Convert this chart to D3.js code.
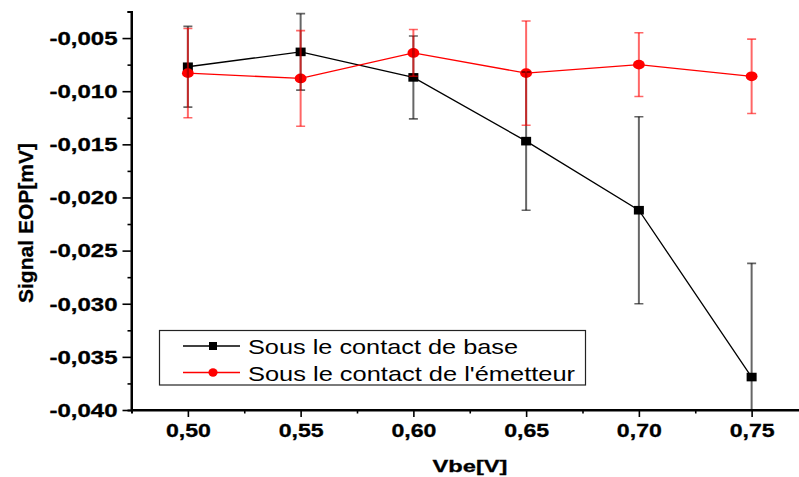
<!DOCTYPE html>
<html lang="fr">
<head>
	<meta charset="UTF-8">
	<title>Signal EOP vs Vbe</title>
	<script src="https://d3js.org/d3.v7.min.js" charset="utf-8"></script>
	<style>
		body { margin: 0; background: #fff; }
		text { font-family: "Liberation Sans", Arial, sans-serif; }
	</style>
</head>
<body>
	<svg></svg>
	<script>
		// data
		const vbe = [0.50, 0.55, 0.60, 0.65, 0.70, 0.75]
		const baseVals = [-0.0077, -0.0063, -0.0087, -0.0147, -0.0212, -0.0369]
		const baseErr = [0.0038, 0.0036, 0.0039, 0.0065, 0.0088, 0.0107]
		const emitVals = [-0.0083, -0.0088, -0.0064, -0.0083, -0.0075, -0.0086]
		const emitErr = [0.0042, 0.0045, 0.0022, 0.0049, 0.0030, 0.0035]
		const xTicks = [0.50, 0.55, 0.60, 0.65, 0.70, 0.75]
		const xMinor = [0.525, 0.575, 0.625, 0.675, 0.725]
		const yTicks = [-0.040, -0.035, -0.030, -0.025, -0.020, -0.015, -0.010, -0.005]
		const yMinor = [-0.0375, -0.0325, -0.0275, -0.0225, -0.0175, -0.0125, -0.0075, -0.0025]
		const seriesNames = ['Sous le contact de base', "Sous le contact de l'émetteur"]

		const W = 799, H = 477

		let svg = d3.select('svg')
			.attr('width', W)
			.attr('height', H)

		let x = d3.scaleLinear().domain([0.475, 0.775]).range([131.5, 808])
		let y = d3.scaleLinear().domain([-0.040, -0.0025]).range([410, 11.5])

		let loc = d3.formatLocale({decimal: ',', thousands: ' ', grouping: [3], currency: ['', ''], minus: '-'})

		svg.append('defs').append('clipPath').attr('id', 'plot')
			.append('rect')
			.attr('x', x.range()[0]).attr('y', y.range()[1])
			.attr('width', W - x.range()[0]).attr('height', y.range()[0] - y.range()[1])

		// axes
		let yAxis = svg.append('g')
			.attr('transform', `translate(${x.range()[0]},0)`)
			.call(d3.axisLeft(y).tickValues(yTicks).tickSize(9).tickPadding(6).tickFormat(loc.format('.3f')))
		svg.append('g')
			.attr('transform', `translate(${x.range()[0]},0)`)
			.call(d3.axisLeft(y).tickValues(yMinor).tickSize(4).tickFormat(''))

		let xAxis = svg.append('g')
			.attr('transform', `translate(0,${y.range()[0]})`)
			.call(d3.axisBottom(x).tickValues(xTicks).tickSize(7).tickPadding(6).tickFormat(loc.format('.2f')))
		svg.append('g')
			.attr('transform', `translate(0,${y.range()[0]})`)
			.call(d3.axisBottom(x).tickValues(xMinor).tickSize(3.5).tickFormat(''))

		svg.selectAll('.domain').attr('stroke', '#000').attr('stroke-width', 2)
		svg.selectAll('.tick line').attr('stroke', '#000').attr('stroke-width', 1.6)

		yAxis.selectAll('text')
			.attr('font-size', 17.5).attr('font-weight', 'bold').attr('fill', '#000')
			.attr('stroke', '#000').attr('stroke-width', 0.3)
			.attr('textLength', 68).attr('lengthAdjust', 'spacingAndGlyphs')
			.attr('x', -14).attr('dy', '0.36em')
		xAxis.selectAll('text')
			.attr('font-size', 18.5).attr('font-weight', 'bold').attr('fill', '#000')
			.attr('stroke', '#000').attr('stroke-width', 0.3)
			.attr('textLength', 45).attr('lengthAdjust', 'spacingAndGlyphs')
			.attr('y', 14).attr('dy', '0.71em')

		// plain axis lines, no outer ticks
		yAxis.select('.domain').attr('d', `M0,${y.range()[1]}V${y.range()[0]}`)
		xAxis.select('.domain').attr('d', `M${x.range()[0]},0H${W}`)

		// titles
		svg.append('text')
			.attr('transform', 'translate(33,223) rotate(-90)')
			.attr('text-anchor', 'middle')
			.attr('font-size', 21).attr('font-weight', 'bold')
			.attr('stroke', '#000').attr('stroke-width', 0.3)
			.attr('textLength', 160).attr('lengthAdjust', 'spacingAndGlyphs')
			.text('Signal EOP[mV]')
		svg.append('text')
			.attr('x', 470).attr('y', 472)
			.attr('text-anchor', 'middle')
			.attr('font-size', 17).attr('font-weight', 'bold')
			.attr('stroke', '#000').attr('stroke-width', 0.3)
			.attr('textLength', 75).attr('lengthAdjust', 'spacingAndGlyphs')
			.text('Vbe[V]')

		let series = [
			{name: seriesNames[0], vals: baseVals, err: baseErr, color: '#000', shape: 'square'},
			{name: seriesNames[1], vals: emitVals, err: emitErr, color: '#ff0000', shape: 'circle'}
		]

		let plot = svg.append('g').attr('clip-path', 'url(#plot)')
		let line = d3.line().x((d, i) => x(vbe[i])).y(d => y(d))

		series.forEach(s => {
			plot.append('path')
				.datum(s.vals)
				.attr('fill', 'none')
				.attr('stroke', s.color)
				.attr('stroke-width', 1.3)
				.attr('d', line)
		})

		series.forEach(s => {
			let g = plot.append('g')
			if (s.shape === 'square') {
				g.selectAll('rect').data(s.vals).join('rect')
					.attr('x', (d, i) => x(vbe[i]) - 5)
					.attr('y', d => y(d) - 4.3)
					.attr('width', 10).attr('height', 8.6)
					.attr('fill', s.color)
			} else {
				g.selectAll('ellipse').data(s.vals).join('ellipse')
					.attr('cx', (d, i) => x(vbe[i]))
					.attr('cy', d => y(d))
					.attr('rx', 5.9).attr('ry', 4.9)
					.attr('fill', s.color)
			}
		})

		// error bars on top, semi transparent
		series.forEach(s => {
			let g = plot.append('g')
				.attr('stroke', s.color)
				.attr('stroke-opacity', 0.6)
				.attr('fill', 'none')
			s.vals.forEach((v, i) => {
				let cx = x(vbe[i]), top = y(v + s.err[i]), bot = y(v - s.err[i])
				g.append('path')
					.attr('stroke-width', 2)
					.attr('d', `M${cx},${top}V${bot}`)
				g.append('path')
					.attr('stroke-width', 1.6)
					.attr('d', `M${cx - 4.5},${top}H${cx + 4.5}M${cx - 4.5},${bot}H${cx + 4.5}`)
			})
		})

		// legend
		let lg = svg.append('g')
		lg.append('rect')
			.attr('x', 159.5).attr('y', 330.5)
			.attr('width', 426).attr('height', 54.5)
			.attr('fill', '#fff').attr('stroke', '#222').attr('stroke-width', 1.2)
		let rowY = [346, 372.5]
		let textLen = [270, 327]
		series.forEach((s, i) => {
			let r = lg.append('g').attr('transform', `translate(0,${rowY[i]})`)
			r.append('line')
				.attr('x1', 183).attr('x2', 240)
				.attr('stroke', s.color).attr('stroke-width', 1.3)
			if (s.shape === 'square') {
				r.append('rect').attr('x', 209).attr('y', -4).attr('width', 8).attr('height', 8).attr('fill', s.color)
			} else {
				r.append('ellipse').attr('cx', 213).attr('rx', 4.6).attr('ry', 4.2).attr('fill', s.color)
			}
			r.append('text')
				.attr('x', 248).attr('y', 8)
				.attr('font-size', 21)
				.attr('textLength', textLen[i]).attr('lengthAdjust', 'spacingAndGlyphs')
				.text(s.name)
		})
	</script>
</body>
</html>
